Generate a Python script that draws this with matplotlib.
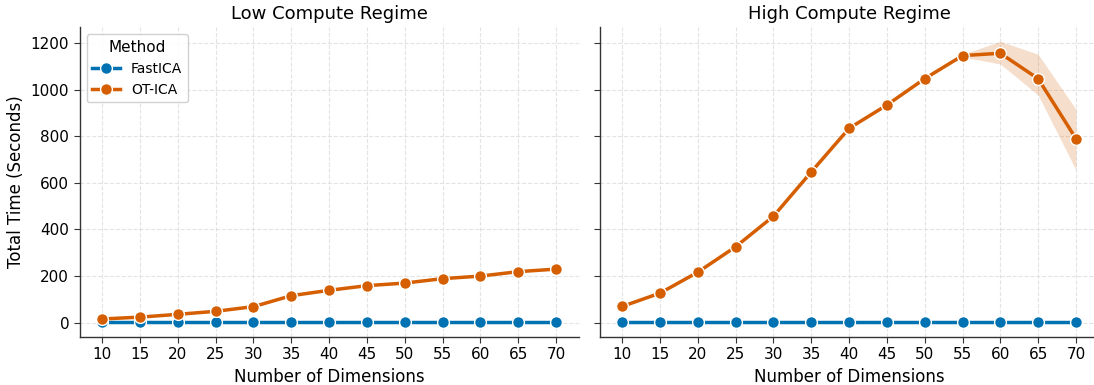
import matplotlib
matplotlib.use("Agg")
import matplotlib.pyplot as plt
import numpy as np

dims = [10, 15, 20, 25, 30, 35, 40, 45, 50, 55, 60, 65, 70]

low_fastica = [1, 1, 1, 1, 1, 1, 1, 1, 1, 1, 1, 1, 1]
low_otica = [16, 24, 36, 49, 69, 116, 139, 159, 170, 189, 200, 219, 230]

high_fastica = [1, 1, 1, 1, 1, 1, 1, 1, 1, 1, 1, 1, 1]
high_otica = [70, 127, 217, 326, 457, 647, 834, 934, 1047, 1146, 1156, 1047, 790]
high_otica_lo = [70, 127, 217, 326, 457, 647, 834, 934, 1047, 1140, 1110, 977, 656]
high_otica_hi = [70, 127, 217, 326, 457, 647, 834, 934, 1047, 1152, 1207, 1152, 916]

titles = ["Low Compute Regime", "High Compute Regime"]
methods = ["FastICA", "OT-ICA"]
colors = ["#0072B2", "#D55E00"]

W, H = 1094, 385
fig = plt.figure(figsize=(W / 100, H / 100), dpi=100)
ax1 = fig.add_axes([79.6 / W, 1 - 336.7 / H, 499 / W, (336.7 - 27.4) / H])
ax2 = fig.add_axes([599.6 / W, 1 - 336.7 / H, 499 / W, (336.7 - 27.4) / H], sharey=ax1)

panels = [
    (ax1, [low_fastica, low_otica], None),
    (ax2, [high_fastica, high_otica], (high_otica_lo, high_otica_hi)),
]

for i, (ax, series, band) in enumerate(panels):
    for j, (vals, m, c) in enumerate(zip(series, methods, colors)):
        ax.plot(dims, vals, color=c, lw=2.5, marker="o", markersize=8.5,
                markeredgecolor="white", markeredgewidth=1.0, label=m, zorder=3)
    if band is not None:
        ax.fill_between(dims, band[0], band[1], color=colors[1], alpha=0.2, lw=0, zorder=2)
    ax.set_title(titles[i], fontsize=13)
    ax.set_xlabel("Number of Dimensions", fontsize=12)
    ax.set_xticks(dims)
    ax.set_xlim(7, 73)
    ax.grid(True, ls="--", color="#dddddd", lw=0.8, alpha=0.8)
    ax.set_axisbelow(True)
    for s in ["top", "right"]:
        ax.spines[s].set_visible(False)
    for s in ["left", "bottom"]:
        ax.spines[s].set_color("#333333")
        ax.spines[s].set_linewidth(1.0)
    ax.tick_params(labelsize=11, color="#333333", length=4)

ax1.set_ylim(-60, 1267)
ax1.set_yticks([0, 200, 400, 600, 800, 1000, 1200])
ax1.set_ylabel("Total Time (Seconds)", fontsize=12)
plt.setp(ax2.get_yticklabels(), visible=False)

leg = ax1.legend(title="Method", loc="upper left", fontsize=10, title_fontsize=11,
                 frameon=True, fancybox=True, framealpha=0.9, edgecolor="#cccccc")

fig.savefig("out.png", dpi=100)
